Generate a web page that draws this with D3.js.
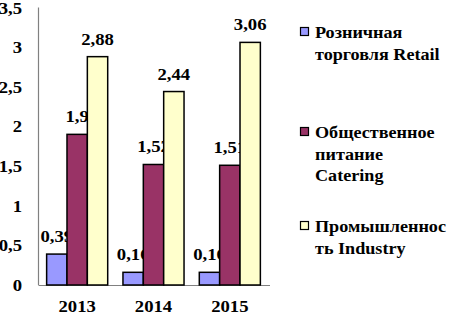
<!DOCTYPE html>
<html><head><meta charset="utf-8">
<script src="https://cdn.jsdelivr.net/npm/d3@7"></script>
<style>body{margin:0;background:#fff}svg{display:block}</style>
</head><body>
<script>
const categories = ["2013","2014","2015"];
const seriesNames = [["Розничная","торговля Retail"],["Общественное","питание","Catering"],["Промышленнос","ть Industry"]];
const retail = [0.39,0.16,0.16];
const catering = [1.9,1.52,1.51];
const industry = [2.88,2.44,3.06];
const valueLabels = [["0,39","0,16","0,16"],["1,9","1,52","1,51"],["2,88","2,44","3,06"]];
const yTicks = [0,0.5,1,1.5,2,2.5,3,3.5];
const yTickLabels = ["0","0,5","1","1,5","2","2,5","3","3,5"];
const colors = ["#9999FF","#993366","#FFFFCC"];
const series = [retail, catering, industry];

const W=449,H=314;
const svg=d3.select("body").append("svg").attr("width",W).attr("height",H);
const y=d3.scaleLinear().domain([0,3.5]).range([285,7.5]);
const x=d3.scaleBand().domain(categories).range([39,268]).paddingInner(0.2).paddingOuter(0.1);
const xs=d3.scaleBand().domain([0,1,2]).range([0,x.bandwidth()]);

function txt(sel,px,py,anchor,size){
  return sel.append("text").attr("transform",`translate(${px},${py}) scale(1.1,1)`)
    .attr("text-anchor",anchor).attr("font-family","Liberation Serif")
    .attr("font-weight","bold").attr("font-size",size).attr("fill","#000");
}

svg.append("line").attr("x1",38.5).attr("x2",38.5).attr("y1",y(3.5)).attr("y2",285).attr("stroke","#808080").attr("stroke-width",1.2);
svg.append("line").attr("x1",38.5).attr("x2",270).attr("y1",285.5).attr("y2",285.5).attr("stroke","#808080").attr("stroke-width",1.2);

yTicks.forEach((d,i)=>{
  txt(svg,22,y(d)+6,"end",17).text(yTickLabels[i]);
});
categories.forEach(c=>{
  txt(svg,x(c)+x.bandwidth()/2,312,"middle",17).text(c);
});

series.forEach((vals,si)=>{
  const g=svg.append("g");
  g.selectAll("rect").data(vals).enter().append("rect")
   .attr("x",(d,i)=>x(categories[i])+xs(si)).attr("width",xs.bandwidth())
   .attr("y",d=>y(d)).attr("height",d=>285-y(d))
   .attr("fill",colors[si]).attr("stroke","#000").attr("stroke-width",1.5);
  vals.forEach((d,i)=>{
    txt(svg,x(categories[i])+xs(si)+xs.bandwidth()/2,y(d)-12,"middle",17).text(valueLabels[si][i]);
  });
});

const legTop=[38,138,232];
seriesNames.forEach((lines,si)=>{
  svg.append("rect").attr("x",300.5).attr("y",legTop[si]-10.5).attr("width",8).attr("height",8)
   .attr("fill",colors[si]).attr("stroke","#000").attr("stroke-width",1.2);
  lines.forEach((t,li)=>{
    txt(svg,315,legTop[si]+li*21.5,"start",16.5).text(t);
  });
});
</script>
</body></html>
